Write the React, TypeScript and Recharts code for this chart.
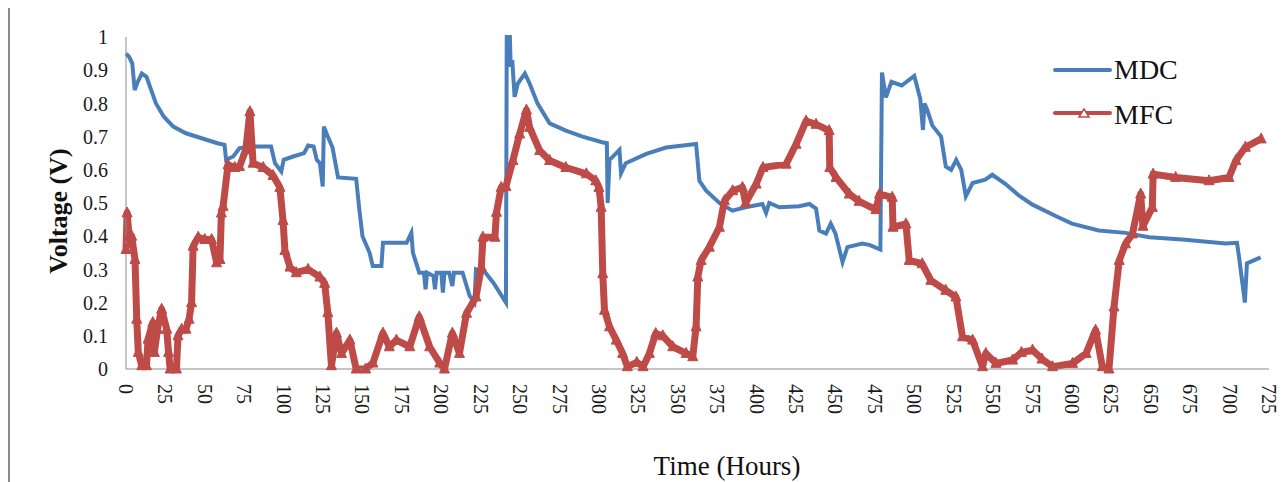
import React from "react";
import { LineChart, Line, XAxis, YAxis } from "recharts";

// MDC voltage trace (hours, volts)
const mdcHours = [
  0, 2, 4, 5.5, 7, 10, 13, 16, 19, 24, 30, 38, 48, 58, 62.5, 63.5, 68, 72, 80, 92,
  94.5, 98.5, 100, 106, 113, 115.5, 119, 121, 123, 124.8, 125.5, 128, 131, 134.5,
  146, 148, 150, 154.5, 156.5, 162, 163, 178, 181, 182, 186, 189, 190, 191, 195,
  196, 197, 200, 201, 202, 205, 207, 208, 213.5, 218, 221, 222, 228, 233, 241,
  241.5, 243.5, 244, 245, 246.5, 248.5, 253, 256, 261, 268.7, 279, 289.6, 302, 305,
  305.5, 306.7, 311, 313, 314, 317, 330, 342.6, 361.6, 363.7, 368, 376.4, 384.7,
  393, 403.7, 406, 408, 414.4, 427, 433.5, 437.7, 439.8, 444, 447, 450, 454.5,
  457.6, 467, 471.5, 478.5, 479.5, 482, 485.5, 492, 500, 503.8, 505.5, 506.5, 508,
  511.5, 517, 520, 523.4, 526.6, 529.8, 532.7, 537, 545, 549.5, 557.7, 566.5, 575,
  590, 600, 617, 634, 649, 670, 697.5, 704.7, 706, 709.7, 711, 719.7,
];
const mdcVolts = [
  0.95, 0.94, 0.92, 0.84, 0.86, 0.89, 0.88, 0.84, 0.8, 0.76, 0.73, 0.71, 0.695, 0.68,
  0.675, 0.63, 0.64, 0.665, 0.67, 0.67, 0.62, 0.595, 0.63, 0.64, 0.65, 0.673, 0.67,
  0.63, 0.62, 0.55, 0.73, 0.7, 0.667, 0.577, 0.573, 0.48, 0.4, 0.35, 0.31, 0.31,
  0.38, 0.38, 0.41, 0.35, 0.29, 0.29, 0.24, 0.29, 0.28, 0.24, 0.29, 0.29, 0.23,
  0.29, 0.29, 0.25, 0.29, 0.29, 0.22, 0.2, 0.3, 0.29, 0.26, 0.2, 1.0, 1.0, 0.91,
  0.93, 0.82, 0.86, 0.89, 0.86, 0.8, 0.74, 0.718, 0.7, 0.683, 0.68, 0.5, 0.63, 0.65,
  0.66, 0.59, 0.62, 0.648, 0.667, 0.678, 0.567, 0.537, 0.5, 0.477, 0.487, 0.497,
  0.47, 0.5, 0.487, 0.49, 0.497, 0.483, 0.417, 0.408, 0.438, 0.408, 0.322, 0.367,
  0.378, 0.374, 0.36, 0.893, 0.818, 0.865, 0.854, 0.883, 0.814, 0.72, 0.8, 0.783,
  0.733, 0.7, 0.61, 0.6, 0.63, 0.6, 0.52, 0.56, 0.57, 0.585, 0.558, 0.522, 0.495,
  0.46, 0.438, 0.417, 0.41, 0.397, 0.39, 0.378, 0.38, 0.337, 0.2, 0.318, 0.336,
];

// MFC voltage trace (hours, volts)
const mfcHours = [
  0, 0.7, 2, 3.6, 5.7, 6.8, 7.8, 10, 13, 14, 17, 18, 20, 22.6, 25.8, 27, 28, 32, 33,
  35.3, 38, 40, 41.6, 42.6, 45.8, 50, 54.3, 57.5, 59.6, 60.5, 61.6, 64.7, 69, 72, 76,
  78.6, 80.6, 87, 93.3, 97.6, 99.6, 100.8, 104, 108, 115.5, 123, 126, 128, 130.3,
  133.5, 136.7, 142, 146, 152, 156.6, 163, 167, 171.5, 180, 186, 192.6, 199, 202,
  207, 211.5, 216, 222, 225.4, 226.4, 234, 235, 238, 241, 245.4, 249.7, 254, 256,
  262.4, 268.7, 279, 292, 298, 300, 301.4, 302.4, 303.5, 306.7, 311, 315, 318, 324,
  328, 332, 336, 340.5, 346.8, 355.3, 359.5, 361.6, 362.7, 364.8, 370, 376.4, 379.6,
  384.8, 391, 393, 399.7, 404, 418.7, 425, 431.4, 437.7, 446, 446.4, 450.4, 458.8,
  465, 475.7, 478, 486, 486.5, 494.7, 496.8, 505, 510.5, 520, 526.4, 530.6, 537,
  543.3, 545.4, 551.8, 562.4, 568, 575, 581, 587.7, 600.4, 609, 615, 619.3, 623.5,
  626.7, 630, 634, 638.4, 643.6, 645, 651, 651.5, 665.8, 687, 699.6, 704, 710, 720,
];
const mfcVolts = [
  0.36, 0.47, 0.4, 0.4, 0.33, 0.15, 0.05, 0.01, 0.01, 0.09, 0.14, 0.05, 0.12, 0.18,
  0.12, 0.05, 0.0, 0.0, 0.1, 0.12, 0.12, 0.15, 0.2, 0.37, 0.397, 0.39, 0.39, 0.32,
  0.33, 0.47, 0.49, 0.615, 0.607, 0.61, 0.66, 0.775, 0.62, 0.607, 0.583, 0.547,
  0.447, 0.357, 0.307, 0.29, 0.3, 0.277, 0.258, 0.17, 0.01, 0.108, 0.047, 0.087, 0.0,
  0.0, 0.018, 0.108, 0.067, 0.087, 0.067, 0.157, 0.067, 0.018, 0.0, 0.108, 0.047,
  0.168, 0.217, 0.307, 0.397, 0.397, 0.472, 0.547, 0.55, 0.628, 0.708, 0.78, 0.728,
  0.658, 0.628, 0.607, 0.588, 0.567, 0.547, 0.487, 0.287, 0.177, 0.127, 0.087, 0.047,
  0.007, 0.02, 0.007, 0.047, 0.107, 0.1, 0.067, 0.047, 0.037, 0.127, 0.277, 0.327,
  0.367, 0.427, 0.507, 0.537, 0.547, 0.5, 0.557, 0.607, 0.617, 0.677, 0.747, 0.737,
  0.718, 0.607, 0.577, 0.527, 0.505, 0.48, 0.527, 0.517, 0.427, 0.437, 0.327, 0.317,
  0.267, 0.237, 0.217, 0.097, 0.087, 0.007, 0.047, 0.017, 0.027, 0.05, 0.057, 0.03,
  0.007, 0.017, 0.047, 0.117, 0.007, 0.0, 0.187, 0.327, 0.377, 0.407, 0.527, 0.43,
  0.487, 0.587, 0.577, 0.567, 0.577, 0.628, 0.668, 0.693,
];

const xTicks = [
  0, 25, 50, 75, 100, 125, 150, 175, 200, 225, 250, 275, 300, 325, 350, 375, 400,
  425, 450, 475, 500, 525, 550, 575, 600, 625, 650, 675, 700, 725,
];
const yTicks = [0, 0.1, 0.2, 0.3, 0.4, 0.5, 0.6, 0.7, 0.8, 0.9, 1];

const mdcData = mdcHours.map((h, i) => ({ hours: h, volts: mdcVolts[i] }));
const mfcData = mfcHours.map((h, i) => ({ hours: h, volts: mfcVolts[i] }));

const SERIF = "'Liberation Serif', 'Times New Roman', serif";
const BLUE = "#4a7ebb";
const RED = "#be4b48";
const AXIS = "#8c8c8c";

const XTick = ({ x, y, payload }: any) => (
  <text
    x={x}
    y={y}
    transform={`rotate(90 ${x} ${y})`}
    textAnchor="start"
    dy="0.35em"
    fontSize={20}
    fontFamily={SERIF}
    fill="#1a1a1a"
  >
    {payload.value}
  </text>
);

const Triangle = (props: any) => {
  const { cx, cy, index } = props;
  if (cx == null || cy == null) return <g key={`t-${index}`} />;
  return (
    <path
      key={`t-${index}`}
      d={`M${cx},${cy - 6} L${cx + 5},${cy + 4} L${cx - 5},${cy + 4} Z`}
      fill={RED}
      stroke={RED}
      strokeWidth={1}
    />
  );
};

// legend drawn over the chart, top right
const LegendBox = () => (
  <svg
    width={140}
    height={90}
    style={{ position: "absolute", left: 1040, top: 42 }}
  >
    <line x1={5} x2={60} y1={20} y2={20} stroke={BLUE} strokeWidth={4} strokeLinecap="round" />
    <text x={64} y={29} fontSize={28} fontFamily={SERIF} fill="#111">
      MDC
    </text>
    <line x1={5} x2={60} y1={63} y2={63} stroke={RED} strokeWidth={4} strokeLinecap="round" />
    <path d="M29,67 L34,59 L39,67 Z" fill="#fff" stroke={RED} strokeWidth={1.5} />
    <text x={64} y={74} fontSize={28} fontFamily={SERIF} fill="#111">
      MFC
    </text>
  </svg>
);

export default function App() {
  return (
    <div
      style={{
        position: "relative",
        marginTop: -2,
        width: 1278,
        height: 474,
        borderTop: `2px solid ${AXIS}`,
        borderLeft: `2px solid ${AXIS}`,
        background: "#fff",
      }}
    >
      <LineChart
        width={1278}
        height={474}
        margin={{ top: 29, right: 19, left: 0, bottom: 0 }}
      >
        <XAxis
          type="number"
          dataKey="hours"
          domain={[0, 725]}
          ticks={xTicks}
          interval={0}
          tickSize={0}
          tickMargin={15}
          height={113}
          stroke={AXIS}
          tick={<XTick />}
          label={{
            content: ({ viewBox }: any) => (
              <text
                x={viewBox.x + 601}
                y={viewBox.y + 106}
                textAnchor="middle"
                fontSize={27}
                fontFamily={SERIF}
                fill="#111"
              >
                Time (Hours)
              </text>
            ),
          }}
        />
        <YAxis
          type="number"
          domain={[0, 1]}
          ticks={yTicks}
          interval={0}
          width={116}
          tickSize={0}
          tickMargin={18}
          stroke={AXIS}
          tick={{ fontSize: 20, fontFamily: SERIF, fill: "#1a1a1a" }}
          label={{
            content: ({ viewBox }: any) => {
              const cx = 48;
              const cy = viewBox.y + viewBox.height / 2 + 8;
              return (
                <text
                  x={cx}
                  y={cy}
                  transform={`rotate(-90 ${cx} ${cy})`}
                  textAnchor="middle"
                  dominantBaseline="central"
                  fontSize={26}
                  fontWeight="bold"
                  fontFamily={SERIF}
                  fill="#111"
                >
                  Voltage (V)
                </text>
              );
            },
          }}
        />
        <Line
          data={mdcData}
          dataKey="volts"
          name="MDC"
          type="linear"
          stroke={BLUE}
          strokeWidth={4}
          dot={false}
          isAnimationActive={false}
        />
        <Line
          data={mfcData}
          dataKey="volts"
          name="MFC"
          type="linear"
          stroke={RED}
          strokeWidth={7}
          strokeLinejoin="round"
          dot={Triangle}
          isAnimationActive={false}
        />
      </LineChart>
      <LegendBox />
    </div>
  );
}
